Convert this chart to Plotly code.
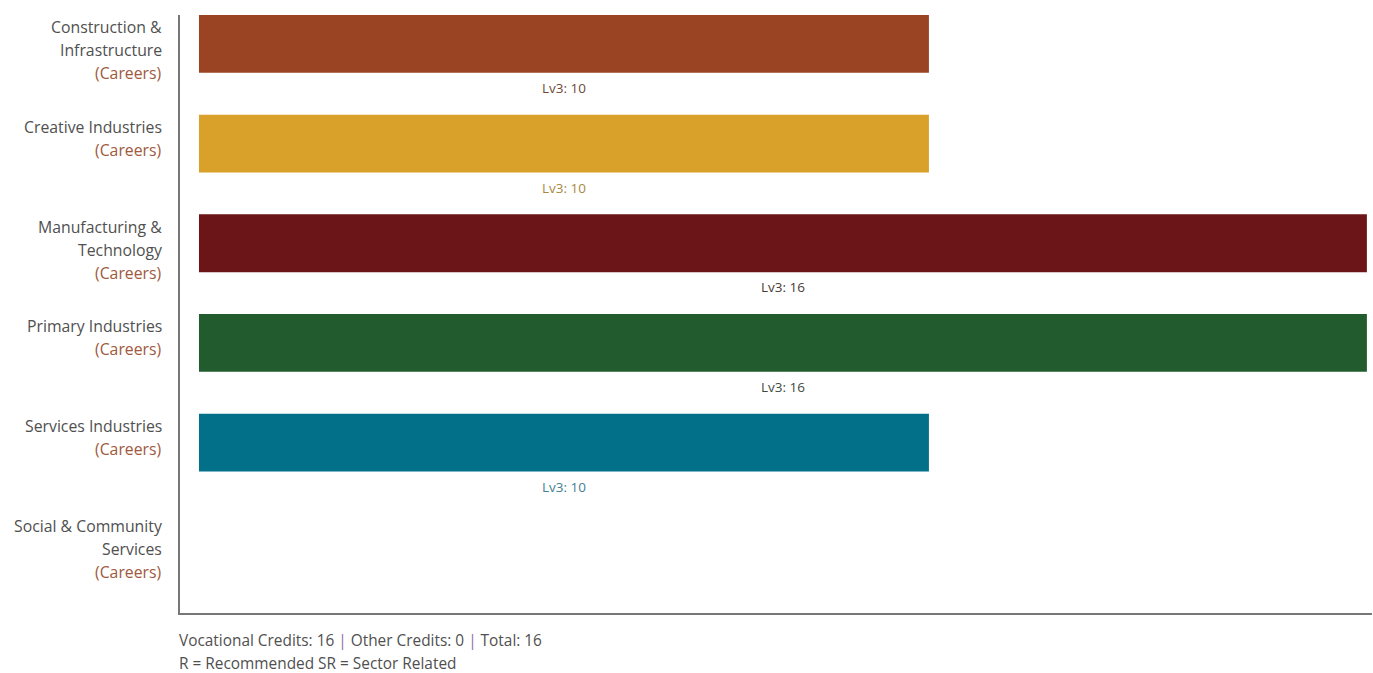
import plotly.graph_objects as go

categories = [["Construction &", "Infrastructure"], ["Creative Industries"], ["Manufacturing &", "Technology"],
              ["Primary Industries"], ["Services Industries"], ["Social & Community", "Services"]]
cat_keys = ["Construction", "Creative", "Manufacturing", "Primary", "Services", "Social"]
values = [10, 10, 16, 16, 10, 0]
levels = ["Lv3", "Lv3", "Lv3", "Lv3", "Lv3", "Lv3"]
bar_colors = ["#9a4423", "#d9a02a", "#6c1519", "#215b2e", "#03708a", "#888888"]
label_colors = ["#6e4a3a", "#a8893e", "#4a3b33", "#3f4a3e", "#3f7f92", "#555555"]
suffix = "(Careers)"
vocational_credits = 16
other_credits = 0
total_credits = 16

fig = go.Figure()
fig.add_trace(go.Bar(
    y=cat_keys, x=values, orientation="h",
    marker=dict(color=bar_colors, line=dict(width=0)),
    width=0.58, offset=-0.5, hoverinfo="skip", showlegend=False,
))

TEXT_FONT = "Open Sans"
annotations = []
for k, lines, v, lv, lc in zip(cat_keys, categories, values, levels, label_colors):
    all_lines = [(ln, "#505050") for ln in lines] + [(suffix, "#a05a40")]
    for j, (ln, col) in enumerate(all_lines):
        annotations.append(dict(
            x=0, xref="paper", y=k, yref="y", xanchor="right", yanchor="middle",
            xshift=-16, yshift=37.5 - 23 * j, showarrow=False,
            text=ln, font=dict(family=TEXT_FONT, size=15.8, color=col),
        ))
    if v > 0:
        annotations.append(dict(
            x=v / 2, y=k, xref="x", yref="y", yshift=-23, showarrow=False,
            text=f"{lv}: {v}", font=dict(family=TEXT_FONT, size=13.5, color=lc),
        ))

annotations.append(dict(
    x=0, xref="paper", y=0, yref="paper", xanchor="left", yanchor="middle", yshift=-27, xshift=-3,
    showarrow=False, align="left",
    text=(f"Vocational Credits: {vocational_credits} <span style='color:#8a70a8'>|</span> "
          f"Other Credits: {other_credits} <span style='color:#8a70a8'>|</span> Total: {total_credits}"),
    font=dict(family=TEXT_FONT, size=15.4, color="#505050"),
))
annotations.append(dict(
    x=0, xref="paper", y=0, yref="paper", xanchor="left", yanchor="middle", yshift=-50, xshift=-3,
    showarrow=False, align="left",
    text="R = Recommended SR = Sector Related",
    font=dict(family=TEXT_FONT, size=15.4, color="#505050"),
))

fig.update_layout(
    width=1373, height=673,
    margin=dict(l=180, r=1, t=15, b=60),
    paper_bgcolor="white", plot_bgcolor="white",
    annotations=annotations,
    xaxis=dict(range=[-0.26, 16.07], showgrid=False, zeroline=False, showticklabels=False,
               ticks="", showline=True, linecolor="#777777", linewidth=1.5),
    yaxis=dict(categoryorder="array", categoryarray=cat_keys, range=[5.5, -0.5],
               showgrid=False, zeroline=False, showticklabels=False, ticks="",
               showline=True, linecolor="#777777", linewidth=1.5),
)

fig.write_html("out.html", config={"displayModeBar": False},
               post_script="document.body.style.margin='0';document.body.style.overflow='hidden';")
